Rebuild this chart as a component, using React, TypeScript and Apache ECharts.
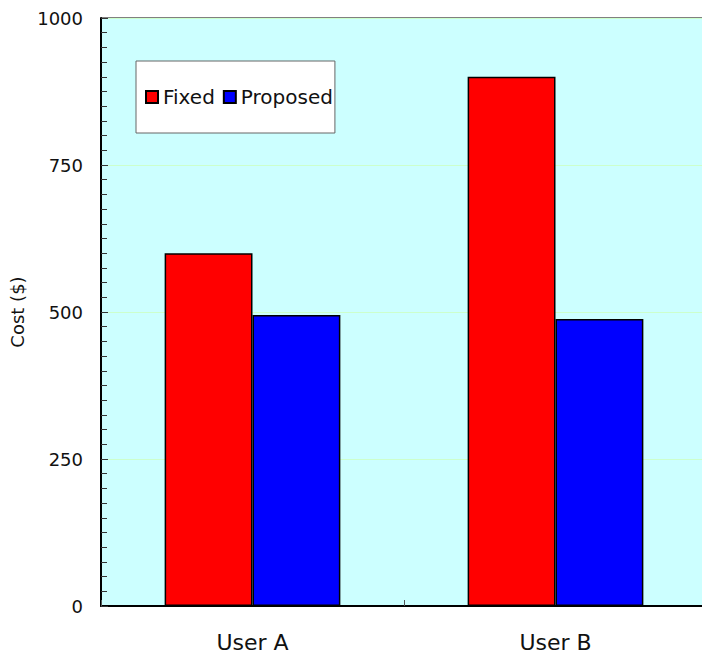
import React, { useEffect, useRef } from "react";
import * as echarts from "echarts";

const categories = ["User A", "User B"];
const fixedValues = [600, 900];
const proposedValues = [495, 488];
const seriesNames = ["Fixed", "Proposed"];

const FONT = "'DejaVu Sans', sans-serif";

export default function App() {
  const ref = useRef<HTMLDivElement>(null);
  useEffect(() => {
    if (!ref.current) return;
    const chart = echarts.init(ref.current, undefined, { renderer: "svg" });
    chart.setOption({
      animation: false,
      backgroundColor: "#ffffff",
      grid: {
        left: 101,
        top: 18,
        width: 606,
        bottom: 48,
        outerBoundsMode: "none",
        containLabel: false,
        show: true,
        backgroundColor: "#ccffff",
        borderColor: "#000",
        borderWidth: 1,
      },
      legend: {
        left: 136,
        top: 61,
        orient: "horizontal",
        padding: [26, 2, 26, 9],
        backgroundColor: "#ffffff",
        borderColor: "#666",
        borderWidth: 1,
        itemWidth: 12,
        itemHeight: 12,
        itemGap: 8,
        icon: "rect",
        textStyle: { fontFamily: FONT, fontSize: 20, color: "#111" },
        data: seriesNames,
      },
      xAxis: {
        type: "category",
        data: categories,
        axisLine: { lineStyle: { color: "#000", width: 2 } },
        axisTick: { show: true, inside: true, length: 6, lineStyle: { color: "#555" } },
        axisLabel: { fontFamily: FONT, fontSize: 22, color: "#111", margin: 25 },
        splitLine: { show: false },
      },
      yAxis: {
        type: "value",
        min: 0,
        max: 1000,
        interval: 250,
        name: "Cost ($)",
        nameLocation: "middle",
        nameRotate: 90,
        nameGap: 64,
        nameTextStyle: { fontFamily: FONT, fontSize: 18, color: "#111" },
        axisLine: { show: true, lineStyle: { color: "#000", width: 2 } },
        axisTick: { show: true, inside: true, length: 7, lineStyle: { color: "#333" } },
        minorTick: { show: true, splitNumber: 10, length: 6, lineStyle: { color: "#333" } },
        axisLabel: {
          fontFamily: FONT,
          fontSize: 18,
          color: "#111",
          margin: 18,
          formatter: (v: number) => String(v),
        },
        splitLine: { show: true, lineStyle: { color: "#ccffcc", width: 1 } },
      },
      series: [
        {
          name: seriesNames[0],
          type: "bar",
          data: fixedValues,
          barGap: "0%",
          barCategoryGap: "42%",
          itemStyle: { color: "#ff0000", borderColor: "#000", borderWidth: 1.5 },
        },
        {
          name: seriesNames[1],
          type: "bar",
          data: proposedValues,
          barGap: "0%",
          barCategoryGap: "42%",
          itemStyle: { color: "#0000ff", borderColor: "#000", borderWidth: 1.5 },
        },
      ],
    });
    return () => chart.dispose();
  }, []);
  return (
    <div
      ref={ref}
      style={{ position: "fixed", left: 0, top: 0, width: 702, height: 654 }}
    />
  );
}
